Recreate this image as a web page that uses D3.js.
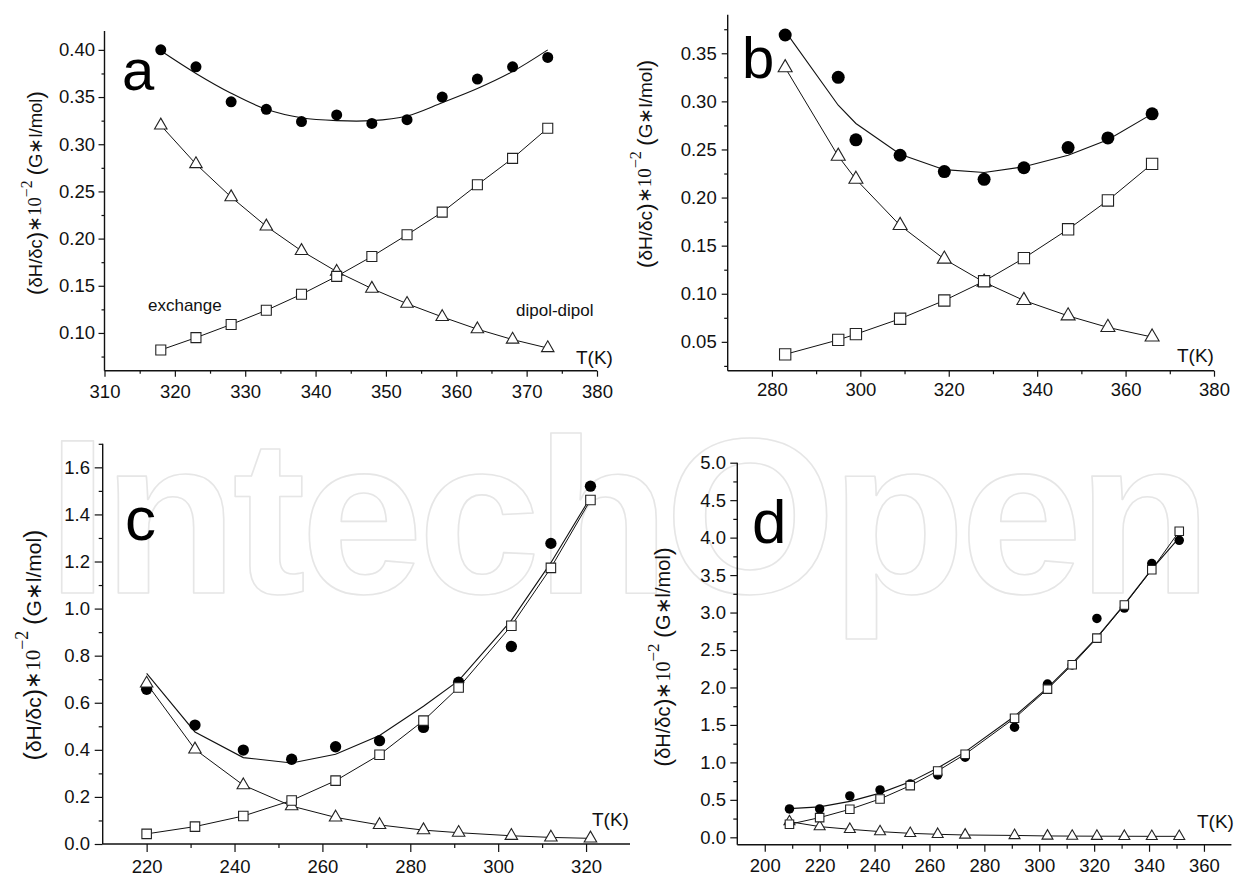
<!DOCTYPE html>
<html><head><meta charset="utf-8">
<script src="https://cdn.jsdelivr.net/npm/d3@7"></script>
<style>body{margin:0;background:#fff} svg{display:block}</style>
</head><body>
<svg id="chart" width="1238" height="875"></svg>
<script>
// ---------- Panel a ----------
const aTemp = [318,323,328,333,338,343,348,353,358,363,368,373];
const aTotal = [0.400,0.382,0.345,0.337,0.324,0.331,0.322,0.326,0.350,0.369,0.382,0.392];
const aFit = [0.399,0.375,0.354,0.337,0.328,0.325,0.325,0.330,0.344,0.359,0.377,0.400];
const aExchange = [0.082,0.095,0.109,0.124,0.141,0.160,0.181,0.204,0.228,0.257,0.285,0.317];
const aDipol = [0.320,0.279,0.244,0.213,0.187,0.165,0.147,0.131,0.117,0.104,0.093,0.084];
const aXTicks = [310,320,330,340,350,360,370,380];
const aYTicks = [0.10,0.15,0.20,0.25,0.30,0.35,0.40];
// ---------- Panel b ----------
const bTemp = [283,295,299,309,319,328,337,347,356,366];
const bTotal = [0.369,0.325,0.260,0.244,0.227,0.219,0.231,0.252,0.262,0.287];
const bFit = [0.373,0.296,0.277,0.245,0.229,0.226,0.232,0.244,0.260,0.287];
const bExchange = [0.037,0.052,0.058,0.074,0.093,0.113,0.137,0.167,0.197,0.235];
const bDipol = [0.335,0.243,0.219,0.171,0.136,0.112,0.093,0.077,0.065,0.055];
const bXTicks = [280,300,320,340,360,380];
const bYTicks = [0.05,0.10,0.15,0.20,0.25,0.30,0.35];
// ---------- Panel c ----------
const cTemp = [220,231,242,253,263,273,283,291,303,312,321];
const cTotal = [0.657,0.505,0.399,0.360,0.413,0.439,0.495,0.687,0.839,1.277,1.520];
const cFit = [0.725,0.476,0.367,0.344,0.381,0.461,0.585,0.694,0.950,1.195,1.472];
const cExchange = [0.043,0.074,0.119,0.185,0.269,0.379,0.524,0.665,0.927,1.173,1.461];
const cDipol = [0.682,0.402,0.250,0.161,0.113,0.081,0.059,0.048,0.035,0.028,0.024];
const cXTicks = [220,240,260,280,300,320];
const cYTicks = [0.0,0.2,0.4,0.6,0.8,1.0,1.2,1.4,1.6];
// ---------- Panel d ----------
const dTemp = [209,220,231,242,253,263,273,291,303,312,321,331,341,351];
const dTotal = [0.379,0.379,0.552,0.633,0.710,0.833,1.069,1.470,2.045,2.300,2.922,3.060,3.653,3.964];
const dFit = [0.383,0.406,0.480,0.590,0.740,0.925,1.140,1.615,1.995,2.320,2.670,3.110,3.580,4.000];
const dExchange = [0.174,0.263,0.374,0.512,0.690,0.886,1.109,1.590,1.978,2.303,2.659,3.100,3.572,4.085];
const dDipol = [0.209,0.143,0.107,0.076,0.053,0.040,0.031,0.025,0.018,0.016,0.015,0.014,0.013,0.013];
const dXTicks = [200,220,240,260,280,300,320,340,360];
const dYTicks = [0.0,0.5,1.0,1.5,2.0,2.5,3.0,3.5,4.0,4.5,5.0];

const SANS = "'Liberation Sans', Arial, Helvetica, sans-serif";
const SERIF = "'Liberation Serif', 'Times New Roman', serif";
const svg = d3.select('#chart');
svg.append('rect').attr('width',1238).attr('height',875).attr('fill','#fff');

// watermark
svg.append('text').attr('x',47).attr('y',593)
  .attr('font-family',SANS).attr('font-size',220).attr('font-weight','bold')
  .attr('textLength',1165).attr('lengthAdjust','spacing')
  .attr('fill','none').attr('stroke','#e6e6e6').attr('stroke-width',1.6)
  .attr('stroke-linejoin','round')
  .text('IntechOpen');

const panels = [
  {temp:aTemp,total:aTotal,fit:aFit,exch:aExchange,dip:aDipol,
   xDomain:[310,380], xRange:[104.5,597], yDomain:[0.06,0.42], yRange:[370.7,31],
   xTicks:aXTicks, xMinor:d3.range(315,380,10), yTicks:aYTicks, yMinor:d3.range(0.075,0.41,0.05),
   fmt:d3.format('.2f'), major:6, minor:3, yPad:3.5, xBase:27.6, curve:d3.curveCatmullRom,
   letter:{t:'a',x:122,y:90,s:58}, tk:{x:576,y:364}, ylab:{x:37,y:193,s:18.5},
   mk:{c:11,s:10,t:12.5}},
  {temp:bTemp,total:bTotal,fit:bFit,exch:bExchange,dip:bDipol,
   xDomain:[270,380], xRange:[727.7,1214], yDomain:[0.02,0.39], yRange:[370.7,14.8],
   xTicks:bXTicks, xMinor:d3.range(290,380,20), yTicks:bYTicks, yMinor:d3.range(0.025,0.39,0.05),
   fmt:d3.format('.2f'), major:6, minor:3.5, yPad:5, xBase:25.8, curve:d3.curveLinear,
   letter:{t:'b',x:742,y:78,s:58}, tk:{x:1177,y:362}, ylab:{x:647,y:164,s:19},
   mk:{c:13,s:11.3,t:14}},
  {temp:cTemp,total:cTotal,fit:cFit,exch:cExchange,dip:cDipol,
   xDomain:[210,330], xRange:[102.7,630], yDomain:[0,1.7], yRange:[844,443.8],
   xTicks:cXTicks, xMinor:d3.range(230,330,20), yTicks:cYTicks, yMinor:d3.range(0.1,1.75,0.2),
   fmt:d3.format('.1f'), major:8, minor:4, yPad:4.7, xBase:28.5, curve:d3.curveLinear,
   letter:{t:'c',x:125,y:540,s:62}, tk:{x:592,y:826}, ylab:{x:35,y:645,s:21},
   mk:{c:11.3,s:9.5,t:12.5}},
  {temp:dTemp,total:dTotal,fit:dFit,exch:dExchange,dip:dDipol,
   xDomain:[190,370], xRange:[737.3,1231.4], yDomain:[-0.1,5.0], yRange:[844.8,462.7],
   xTicks:dXTicks, xMinor:d3.range(210,370,20), yTicks:dYTicks, yMinor:d3.range(0.25,5,0.5),
   fmt:d3.format('.1f'), major:7, minor:4, yPad:4.3, xBase:27.6, curve:d3.curveLinear,
   letter:{t:'d',x:752,y:543,s:62}, tk:{x:1197,y:828}, ylab:{x:665,y:657,s:20},
   mk:{c:9.5,s:8.5,t:11}}
];

function styleAxis(sel){
  sel.select('.domain').remove();
  sel.selectAll('line').attr('stroke','#111').attr('stroke-width',1.2);
  sel.selectAll('text').attr('font-family',SANS).attr('font-size',18.5).attr('fill','#111');
}

panels.forEach(p => {
  const g = svg.append('g');
  const x = d3.scaleLinear().domain(p.xDomain).range(p.xRange);
  const y = d3.scaleLinear().domain(p.yDomain).range(p.yRange);
  const x0 = p.xRange[0], yb = p.yRange[0];

  // x axis
  g.append('g').attr('transform',`translate(0,${yb})`)
    .call(d3.axisBottom(x).tickValues(p.xMinor).tickSize(p.minor).tickFormat(''))
    .call(styleAxis);
  const xa = g.append('g').attr('transform',`translate(0,${yb})`)
    .call(d3.axisBottom(x).tickValues(p.xTicks).tickSize(p.major).tickFormat(d3.format('d')))
    .call(styleAxis);
  xa.selectAll('text').attr('y',p.xBase).attr('dy',null);
  // y axis
  g.append('g').attr('transform',`translate(${x0},0)`)
    .call(d3.axisLeft(y).tickValues(p.yMinor).tickSize(p.minor).tickFormat(''))
    .call(styleAxis);
  g.append('g').attr('transform',`translate(${x0},0)`)
    .call(d3.axisLeft(y).tickValues(p.yTicks).tickSize(p.major).tickPadding(p.yPad).tickFormat(p.fmt))
    .call(styleAxis);
  // axis lines
  g.append('line').attr('x1',x0).attr('x2',p.xRange[1]).attr('y1',yb).attr('y2',yb)
    .attr('stroke','#111').attr('stroke-width',1.4);
  g.append('line').attr('x1',x0).attr('x2',x0).attr('y1',yb).attr('y2',p.yRange[1])
    .attr('stroke','#111').attr('stroke-width',1.4);

  // lines
  const mkLine = (vals, curve) => d3.line().curve(curve)
    .x((d,i)=>x(p.temp[i])).y(d=>y(d))(vals);
  g.append('path').attr('d',mkLine(p.dip,d3.curveLinear)).attr('fill','none').attr('stroke','#111').attr('stroke-width',1);
  g.append('path').attr('d',mkLine(p.exch,d3.curveLinear)).attr('fill','none').attr('stroke','#111').attr('stroke-width',1);
  g.append('path').attr('d',mkLine(p.fit,p.curve)).attr('fill','none').attr('stroke','#111').attr('stroke-width',1.1);

  // markers: circles (total), triangles (dipol-dipol), squares (exchange)
  g.selectAll('circle.tot').data(p.total).join('circle').attr('class','tot')
    .attr('cx',(d,i)=>x(p.temp[i])).attr('cy',d=>y(d)).attr('r',p.mk.c/2).attr('fill','#000');
  const triArea = Math.sqrt(3)/4*p.mk.t*p.mk.t;
  g.selectAll('path.tri').data(p.dip).join('path').attr('class','tri')
    .attr('d',d3.symbol().type(d3.symbolTriangle).size(triArea))
    .attr('transform',(d,i)=>`translate(${x(p.temp[i])},${y(d)})`)
    .attr('fill','#fff').attr('stroke','#222').attr('stroke-width',1.1);
  g.selectAll('path.sq').data(p.exch).join('path').attr('class','sq')
    .attr('d',d3.symbol().type(d3.symbolSquare).size(p.mk.s*p.mk.s))
    .attr('transform',(d,i)=>`translate(${x(p.temp[i])},${y(d)})`)
    .attr('fill','#fff').attr('stroke','#222').attr('stroke-width',1.1);

  // panel letter
  g.append('text').attr('x',p.letter.x).attr('y',p.letter.y)
    .attr('font-family',SANS).attr('font-size',p.letter.s).attr('fill','#000').text(p.letter.t);
  // T(K)
  g.append('text').attr('x',p.tk.x).attr('y',p.tk.y)
    .attr('font-family',SANS).attr('font-size',19).attr('fill','#111').text('T(K)');
  // y label
  const yl = g.append('text')
    .attr('transform',`translate(${p.ylab.x},${p.ylab.y}) rotate(-90)`)
    .attr('text-anchor','middle').attr('dominant-baseline','middle')
    .attr('font-family',SANS).attr('font-size',p.ylab.s).attr('fill','#111');
  yl.append('tspan').attr('font-size','1.2em').text('(');
  yl.append('tspan').text('δH/δc');
  yl.append('tspan').attr('font-size','1.2em').text(')');
  yl.append('tspan').attr('font-family',SERIF).text('∗10');
  yl.append('tspan').attr('font-family',SERIF).attr('font-size','0.85em').attr('dy','-0.6em').text('−2');
  yl.append('tspan').attr('dy','0.5em').text(' ');
  yl.append('tspan').attr('font-size','1.2em').text('(');
  yl.append('tspan').text('G∗l/mol');
  yl.append('tspan').attr('font-size','1.2em').text(')');
});

// annotations in panel a
svg.append('text').attr('x',148).attr('y',311).attr('font-family',SANS).attr('font-size',17)
  .attr('fill','#111').text('exchange');
svg.append('text').attr('x',516).attr('y',316).attr('font-family',SANS).attr('font-size',17)
  .attr('fill','#111').text('dipol-dipol');
</script>
</body></html>
